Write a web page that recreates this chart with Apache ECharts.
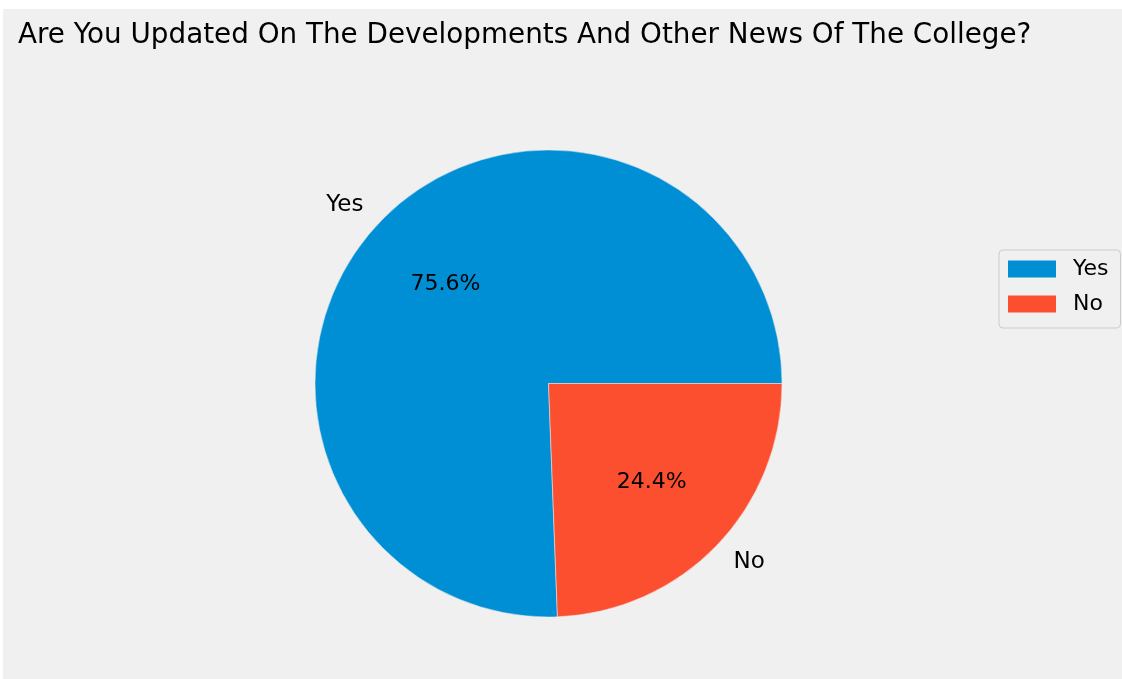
<!DOCTYPE html>
<html>
<head>
<meta charset="utf-8">
<script src="https://cdn.jsdelivr.net/npm/echarts@6/dist/echarts.min.js"></script>
<style>
html,body{margin:0;padding:0;background:#ffffff;width:1122px;height:679px;overflow:hidden;}
#chart{position:absolute;left:3px;top:9px;width:1119px;height:670px;background:#f0f0f0;}
</style>
</head>
<body>
<div id="chart"></div>
<script>
const titleText = 'Are You Updated On The Developments And Other News Of The College?';
const categories = ['Yes', 'No'];
const counts = [31, 10];
const colors = ['#008fd5', '#fc4f30'];

const R = 233.5;
const center = [545.5, 374.5];
const font = 'DejaVu Sans';

const mainData = categories.map((c, i) => ({
  name: c,
  value: counts[i],
  itemStyle: { color: colors[i] },
  label: { align: i === 0 ? 'right' : 'left' }
}));
const pctData = categories.map((c, i) => ({ name: c, value: counts[i] }));

const chart = echarts.init(document.getElementById('chart'));
chart.setOption({
  backgroundColor: '#f0f0f0',
  animation: false,
  title: {
    text: titleText,
    left: 15,
    top: 13,
    padding: 0,
    textStyle: { fontFamily: font, fontSize: 27.8, fontWeight: 'normal', color: '#000' }
  },
  legend: {
    orient: 'vertical',
    left: 996,
    top: 241,
    padding: [8, 12, 13, 9],
    itemWidth: 48,
    itemHeight: 17,
    itemGap: 13,
    icon: 'rect',
    backgroundColor: '#f0f0f0',
    borderColor: '#cccccc',
    borderWidth: 1,
    borderRadius: 4,
    data: categories.map((c, i) => ({ name: c, itemStyle: { color: colors[i], borderWidth: 0 } })),
    textStyle: { fontFamily: font, fontSize: 22, color: '#000', padding: [0, 0, 0, 12] }
  },
  series: [
    {
      type: 'pie',
      center: center,
      radius: [0, R],
      startAngle: 0,
      clockwise: false,
      avoidLabelOverlap: false,
      silent: true,
      itemStyle: { borderColor: '#f0f0f0', borderWidth: 0.5 },
      label: {
        show: true,
        position: 'outside',
        formatter: '{b}',
        fontFamily: font,
        fontSize: 23,
        color: '#000',
        distanceToLabelLine: 0
      },
      labelLine: { show: false, length: R * 0.1, length2: 0 },
      emphasis: { disabled: true },
      data: mainData
    },
    {
      type: 'pie',
      center: center,
      radius: [0, R * 1.2],
      startAngle: 0,
      clockwise: false,
      silent: true,
      z: 3,
      itemStyle: { color: 'rgba(0,0,0,0)', borderWidth: 0 },
      label: {
        show: true,
        position: 'inside',
        formatter: p => p.percent.toFixed(1) + '%',
        fontFamily: font,
        fontSize: 22,
        color: '#000'
      },
      labelLine: { show: false },
      emphasis: { disabled: true },
      data: pctData
    }
  ]
});
</script>
</body>
</html>
